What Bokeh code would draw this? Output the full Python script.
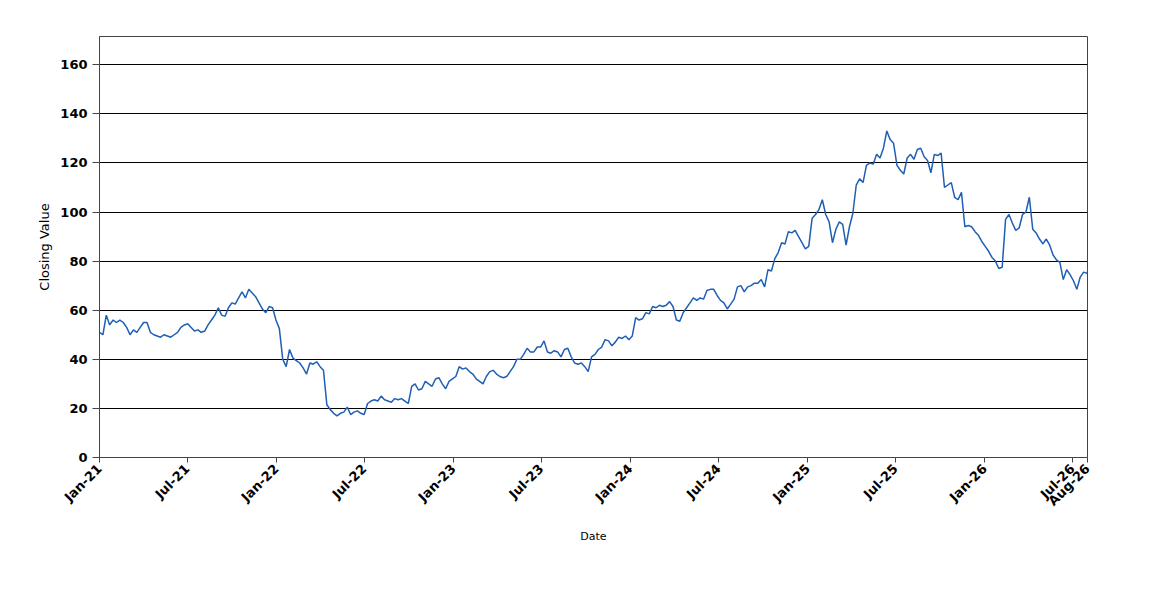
import math
import pandas as pd
from bokeh.plotting import figure
from bokeh.models import Range1d, FixedTicker, DatetimeTickFormatter, ColumnDataSource
from bokeh.embed import file_html
from bokeh.resources import INLINE

# ---- data (weekly closing values) ----
start_date = "2021-01-01"
closing_2021_22 = [
    51, 50, 58, 54, 56, 55, 56, 55, 53, 50,
    52, 51, 53, 55, 55, 51, 50, 49.5, 49, 50,
    49.5, 49, 50, 51, 53, 54, 54.5, 53, 51.5, 52,
    51, 51.5, 54, 56, 58, 61, 58, 57.5, 61, 63,
    62.5, 65, 67.5, 65, 68.5, 67, 65.5, 63, 60.5, 59,
    61.5, 61, 56, 52.5, 40, 37, 44, 40.5, 39.5, 38.5,
    36.5, 34, 38.5, 38, 39, 37, 35.5, 21.5, 19.5, 18,
    17, 18,
]
closing_2022_23 = [
    18.5, 20.5, 17.5, 18.5, 19, 18, 17.5, 22, 23, 23.5,
    23, 25, 23.5, 23, 22.5, 24, 23.5, 24, 23, 22,
    29, 30, 27.5, 28, 31, 30, 29, 32, 32.5, 30,
    28, 31, 32, 33, 37, 36, 36.5, 35, 34, 32,
    31, 30, 33, 35, 35.5, 34, 33, 32.5, 33, 35,
    37, 40, 40, 42, 44.5, 43, 43, 45, 45, 47.5,
    43, 42.5, 43.5, 43, 41, 44, 44.5, 41, 38.5, 38,
    38.5, 37, 35, 41, 42, 44, 45, 48, 47.5, 45.5,
    47, 49,
    48.5, 49.5, 48, 49.5,
]
closing_2024_25 = [
    57, 56, 56.5, 59, 58.5, 61.5, 61, 62, 61.5, 62,
    63.5, 61.5, 56, 55.5, 59, 61, 63, 65, 64, 65,
    64.5, 68, 68.5, 68.5, 66, 64, 63, 60.5, 62.5, 64.5,
    69.5, 70, 67.5, 69.5, 70, 71, 71, 72.5, 69.5, 76.5,
    76, 81, 83.5, 87.5, 87, 92, 91.5, 92.5, 90, 87.5,
    85, 86, 97.5, 99, 101, 105, 99, 96, 87.5, 93,
    96, 95, 86.5, 94,
]
closing_2025_26 = [
    99.5, 111, 113.5, 112, 119, 120, 119.5, 123.5, 122, 126,
    133, 129.5, 128, 119, 117, 115.5, 122, 123.5, 121.5, 125.5,
    126, 122.5, 121, 116, 123.5, 123, 124, 110, 111, 112,
    106, 105, 108, 94, 94.5, 94, 92, 90.5, 88, 86,
    84, 81.5, 80, 77, 77.5, 97, 99, 95.5, 92.5, 93.5,
    99, 100, 106, 93, 91.5, 89, 87, 89, 86.5, 82.5,
    80.5, 79.5, 72.5, 76.5, 74.5, 72, 68.5, 73.5, 75.5, 75,
    80,
]
closing = closing_2021_22 + closing_2022_23 + closing_2024_25 + closing_2025_26
dates = pd.date_range(start_date, periods=len(closing), freq="7D")

tick_dates = ["2021-01-01", "2021-07-01", "2022-01-01", "2022-07-01",
              "2023-01-01", "2023-07-01", "2024-01-01", "2024-07-01",
              "2025-01-01", "2025-07-01", "2026-01-01", "2026-07-01",
              "2026-08-01"]
tick_labels = ["Jan-21", "Jul-21", "Jan-22", "Jul-22", "Jan-23", "Jul-23",
               "Jan-24", "Jul-24", "Jan-25", "Jul-25", "Jan-26", "Jul-26",
               "Aug-26"]
y_ticks = [0, 20, 40, 60, 80, 100, 120, 140, 160]
x_start, x_end = "2021-01-01", "2026-08-01"
y_min, y_max = 0, 171.5

# ---- figure ----
tick_ms = [int(pd.Timestamp(d).value // 10**6) for d in tick_dates]

p = figure(width=1130, height=580, x_axis_type="datetime",
           output_backend="svg", toolbar_location=None,
           x_range=Range1d(pd.Timestamp(x_start), pd.Timestamp(x_end)),
           y_range=Range1d(y_min, y_max),
           min_border_left=99, min_border_right=43,
           min_border_top=36, min_border_bottom=123)

src = ColumnDataSource(dict(date=dates, close=closing))
p.line("date", "close", source=src, line_color="#1f5fb4", line_width=1.5)

p.background_fill_color = "white"
p.border_fill_color = "white"
p.outline_line_color = "#444444"
p.outline_line_width = 1

# x axis
xa = p.xaxis[0]
xa.ticker = FixedTicker(ticks=tick_ms)
xa.formatter = DatetimeTickFormatter(days="%b-%y", months="%b-%y", years="%b-%y")
xa.major_label_overrides = {t: lab for t, lab in zip(tick_ms, tick_labels)}
xa.major_label_orientation = math.pi / 4
xa.axis_label = "Date"
xa.axis_label_text_font = "DejaVu Sans"
xa.axis_label_text_font_size = "11px"
xa.axis_label_text_font_style = "normal"
xa.axis_label_text_color = "#000000"
xa.axis_label_standoff = 13

# y axis
ya = p.yaxis[0]
ya.ticker = FixedTicker(ticks=y_ticks)
ya.axis_label = "Closing Value"
ya.axis_label_text_font = "DejaVu Sans"
ya.axis_label_text_font_size = "13px"
ya.axis_label_text_font_style = "normal"
ya.axis_label_text_color = "#000000"
ya.axis_label_standoff = 5

for ax in (xa, ya):
    ax.major_label_text_font = "DejaVu Sans"
    ax.major_label_text_font_size = "13px"
    ax.major_label_text_font_style = "bold"
    ax.major_label_text_color = "#000000"
    ax.axis_line_color = "#444444"
    ax.major_tick_line_color = "#444444"
    ax.major_tick_in = 0
    ax.minor_tick_line_color = None
xa.major_tick_out = 5
ya.major_tick_out = 7
ya.major_label_standoff = 5
xa.major_label_standoff = 4

p.xgrid.visible = False
p.ygrid.ticker = FixedTicker(ticks=y_ticks)
p.ygrid.grid_line_color = "#000000"
p.ygrid.grid_line_width = 1

open("out.html", "w").write(file_html(p, INLINE))
